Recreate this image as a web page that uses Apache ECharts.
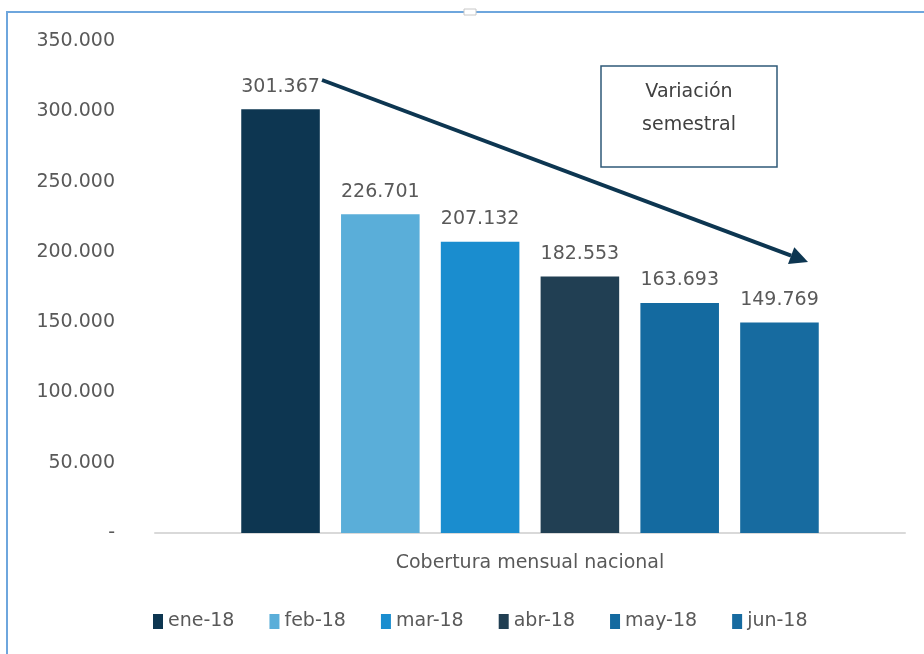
<!DOCTYPE html>
<html>
<head>
    <meta charset="utf-8" />
    <title>Cobertura mensual nacional</title>
    <script src="https://cdn.jsdelivr.net/npm/echarts@6/dist/echarts.min.js"></script>
    <style>
    html, body { margin: 0; padding: 0; background: #fff; }
    #main { width: 924px; height: 654px; }
    </style>
</head>
<body>
    <div id="main"></div>
    <script type="text/javascript">
        // datos
        var categorias = ['Cobertura mensual nacional'];
        var meses = ['ene-18', 'feb-18', 'mar-18', 'abr-18', 'may-18', 'jun-18'];
        var valores = [301367, 226701, 207132, 182553, 163693, 149769];
        var colores = ['#0d3651', '#5aaed9', '#1a8dcf', '#213f53', '#146aa0', '#176ba0'];
        var ticksY = [0, 50000, 100000, 150000, 200000, 250000, 300000, 350000];

        var fuente = 'DejaVu Sans';
        var gris = '#595959';

        // 301367 -> "301.367", 0 -> "-"
        function formato(v) {
            if (v === 0) return '-';
            return String(v).replace(/\B(?=(\d{3})+(?!\d))/g, '.');
        }

        var series = [];
        for (var i = 0; i < meses.length; i++) {
            series.push({
                name: meses[i],
                type: 'bar',
                data: [valores[i]],
                barGap: '27%',
                barCategoryGap: '23%',
                itemStyle: { color: colores[i] },
                label: {
                    show: true,
                    position: 'top',
                    distance: 13,
                    color: gris,
                    fontFamily: fuente,
                    fontSize: 19,
                    formatter: function (p) { return formato(p.value); }
                }
            });
        }

        // flecha de la anotacion
        var x1 = 322, y1 = 80, x2 = 808, y2 = 262;
        var dx = x2 - x1, dy = y2 - y1, len = Math.sqrt(dx * dx + dy * dy);
        var ux = dx / len, uy = dy / len;
        var bx = x2 - 18 * ux, by = y2 - 18 * uy;

        var myChart = echarts.init(document.getElementById('main'));
        myChart.setOption({
            animation: false,
            textStyle: { fontFamily: fuente },
            grid: { left: 155, right: 19, top: 41, bottom: 121, containLabel: false },
            legend: {
                bottom: 18,
                left: 148,
                itemWidth: 10,
                itemHeight: 15,
                itemGap: 35,
                icon: 'rect',
                textStyle: { color: gris, fontSize: 19, fontFamily: fuente },
                data: meses
            },
            xAxis: {
                type: 'category',
                data: categorias,
                axisTick: { show: false },
                axisLine: { lineStyle: { color: '#d9d9d9', width: 2 } },
                axisLabel: { color: gris, fontSize: 19, fontFamily: fuente, margin: 21 }
            },
            yAxis: {
                type: 'value',
                min: ticksY[0],
                max: ticksY[ticksY.length - 1],
                interval: 50000,
                splitLine: { show: false },
                axisLine: { show: false },
                axisTick: { show: false },
                axisLabel: {
                    color: gris, fontSize: 19, fontFamily: fuente, margin: 40,
                    formatter: formato
                }
            },
            graphic: [
                {
                    type: 'rect', silent: true, z: -1,
                    shape: { x: 7, y: 12, width: 930, height: 660 },
                    style: { fill: 'none', stroke: '#6ea6dd', lineWidth: 2 }
                },
                {
                    type: 'rect', silent: true,
                    shape: { x: 464, y: 9, width: 12, height: 6 },
                    style: { fill: '#fff', stroke: '#c8c8c8', lineWidth: 1 }
                },
                {
                    type: 'line', silent: true, z: 10,
                    shape: { x1: x1, y1: y1, x2: bx, y2: by },
                    style: { stroke: '#0d3651', lineWidth: 4 }
                },
                {
                    type: 'polygon', silent: true, z: 10,
                    shape: { points: [[x2, y2], [bx - 9 * uy, by + 9 * ux], [bx + 9 * uy, by - 9 * ux]] },
                    style: { fill: '#0d3651' }
                },
                {
                    type: 'rect', silent: true, z: 10,
                    shape: { x: 601, y: 66, width: 176, height: 101 },
                    style: { fill: '#fff', stroke: '#2f5a78', lineWidth: 1.5 }
                },
                {
                    type: 'text', silent: true, z: 11,
                    x: 689, y: 76,
                    style: {
                        text: 'Variación\nsemestral',
                        fill: '#404040',
                        font: '19px "DejaVu Sans"',
                        align: 'center',
                        lineHeight: 33
                    }
                }
            ],
            series: series
        });
    </script>
</body>
</html>
